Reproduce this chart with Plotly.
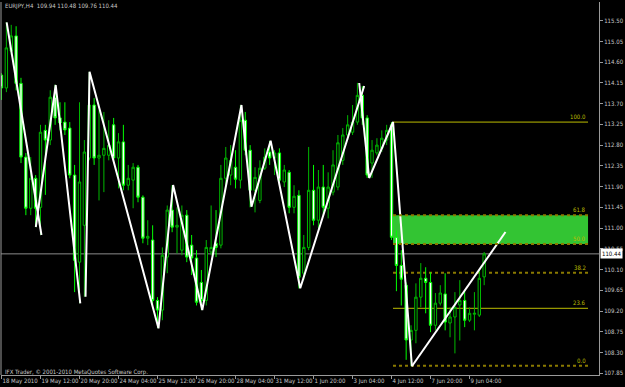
import plotly.graph_objects as go

# ---------------- data ----------------
bars = list(range(100))
opens = [114.32,114.04,114.84,115.17,114.14,112.54,111.43,112.08,111.45,113.12,
         112.91,113.84,113.39,113.30,113.17,112.15,110.26,111.06,112.52,113.67,
         112.52,112.58,112.58,113.24,112.52,112.87,111.93,112.04,112.32,111.67,
         110.78,110.74,109.43,109.22,110.37,111.39,111.02,110.52,111.28,110.63,
         110.35,109.82,109.43,110.48,110.67,110.63,112.08,112.15,112.32,112.04,
         113.34,112.69,111.82,111.60,112.30,112.65,112.52,112.63,112.00,112.21,
         111.45,111.71,110.02,110.58,111.82,111.17,111.89,111.43,111.78,111.89,
         112.47,113.02,113.08,113.30,113.88,113.39,112.41,112.63,112.73,112.91,
         113.24,110.80,110.19,109.76,108.57,108.78,109.50,109.91,109.82,108.89,
         109.37,109.57,108.94,109.07,109.33,109.43,109.00,109.13,109.11,109.94]
highs = [114.36,115.47,115.41,115.38,114.26,112.63,112.54,112.15,113.24,113.24,
         113.99,114.11,113.73,113.73,113.30,112.37,113.73,112.91,114.39,113.82,
         113.56,113.52,113.34,113.39,113.06,113.24,112.37,112.41,112.37,111.71,
         111.17,111.06,109.50,110.58,111.49,111.93,111.45,111.49,111.39,110.85,
         110.52,110.09,110.74,111.49,111.39,112.37,112.76,112.80,112.69,113.67,
         113.52,112.80,112.32,112.47,112.73,112.89,112.69,112.73,112.37,112.26,
         111.93,111.82,110.85,112.76,112.37,112.26,112.37,112.21,112.69,113.02,
         113.17,113.45,113.67,114.15,114.08,113.45,112.91,112.95,113.12,113.24,
         113.30,110.95,110.52,109.82,108.89,109.80,110.24,110.15,110.04,109.59,
         109.76,110.02,109.28,109.61,109.87,109.65,109.28,109.61,110.09,110.48]
lows = [113.78,113.95,114.76,113.99,112.41,111.28,111.28,111.02,110.85,111.72,
        112.80,113.24,113.12,113.02,112.08,109.61,109.37,109.51,112.47,112.37,
        111.60,111.78,112.47,112.43,111.86,111.82,111.82,111.43,111.56,110.67,
        110.63,109.32,108.83,109.00,110.02,110.91,110.45,110.41,110.26,109.98,
        109.32,109.22,109.32,110.41,110.37,110.56,111.93,111.93,111.86,111.86,
        112.58,111.45,111.34,111.54,112.26,112.37,112.15,111.93,111.89,111.32,
        111.32,109.69,109.87,110.52,111.06,111.00,111.28,111.21,111.71,111.82,
        112.37,112.91,113.02,113.24,113.24,112.09,112.09,112.58,112.65,112.80,
        110.74,109.63,109.32,108.14,108.00,108.50,109.28,109.15,108.74,108.78,
        109.32,108.78,108.63,108.28,108.56,108.85,108.96,108.78,109.07,109.76]
closes = [114.04,114.91,115.17,114.14,112.54,111.43,112.08,111.43,113.08,112.91,
          113.84,113.39,113.28,113.13,112.15,110.30,112.00,112.65,113.67,112.52,
          112.58,112.73,112.80,112.52,112.87,111.93,112.08,112.32,111.67,110.78,
          110.82,109.43,109.22,110.41,111.39,111.02,111.06,111.28,110.37,110.35,
          109.39,109.43,110.58,110.58,110.58,112.08,112.52,112.47,112.06,113.34,
          112.69,111.82,112.10,112.30,112.54,112.52,112.63,112.04,112.26,111.45,
          111.69,109.93,110.58,111.82,111.17,111.89,111.45,111.89,112.37,112.85,
          113.02,113.24,113.30,113.88,113.39,112.15,112.69,112.80,112.95,113.12,
          110.80,110.19,109.89,108.57,108.78,109.50,109.91,109.82,108.89,109.37,
          109.59,108.96,109.07,109.28,109.43,109.00,109.15,109.15,109.91,110.44]

# zigzag indicator (bar index, price); None separates segments
zz_x = [1.06, 8.2, None, 7.04, 11.12, 16.16, None,
        17.24, 18.06, 32.2, 35.2, 41.18, 49.22, 51.27, 55.2, 61.27, 74.39, None,
        73.37, 75.41, 80.31, 84.18]
zz_y = [115.465, 110.849, None, 111.023, 114.105, 109.367, None,
        109.510, 114.393, 108.825, 111.934, 109.222, 113.671, 111.464, 112.896, 109.693, 114.083, None,
        114.148, 112.086, 113.302, 108.0]

# trend line
tl_x = [84.18, 103.37]
tl_y = [108.0, 110.914]

# Fibonacci retracement
fib_high = 113.30
fib_low = 108.01
fib_start = 80.3
fib_end = 120.3
fib_levels = [100.0, 61.8, 50.0, 38.2, 23.6, 0.0]

bid = 110.44
symbol_text = "EURJPY,H4  109.94 110.48 109.76 110.44"
copyright_text = "IFX Trader, \u00a9 2001-2010 MetaQuotes Software Corp."

time_tick_bars = [0, 8, 16, 24, 32, 40, 48, 56, 64, 72, 80, 88, 96]
time_tick_text = ["18 May 2010", "19 May 12:00", "20 May 20:00", "24 May 04:00",
                  "25 May 12:00", "26 May 20:00", "28 May 04:00", "31 May 12:00",
                  "1 Jun 20:00", "3 Jun 04:00", "4 Jun 12:00", "7 Jun 20:00",
                  "9 Jun 04:00"]
price_ticks = [107.85, 108.30, 108.75, 109.20, 109.65, 110.10, 110.55, 111.00,
               111.45, 111.90, 112.35, 112.80, 113.25, 113.70, 114.15, 114.60,
               115.05, 115.50]

# ---------------- figure ----------------
FONT = "Liberation Sans Narrow, DejaVu Sans Condensed, Liberation Sans, Arial"
FS = 6
TXT = "#c8c8c8"
FIBC = "#bcbc00"

fig = go.Figure()
fig.add_trace(go.Candlestick(
    x=bars, open=opens, high=highs, low=lows, close=closes,
    increasing=dict(line=dict(color="#00b800", width=1), fillcolor="#000000"),
    decreasing=dict(line=dict(color="#00ff00", width=1), fillcolor="#ffffff"),
    whiskerwidth=0, showlegend=False, hoverinfo="skip"))
fig.add_trace(go.Scatter(x=zz_x, y=zz_y, mode="lines",
                         line=dict(color="#ffffff", width=2),
                         connectgaps=False, showlegend=False, hoverinfo="skip"))
fig.add_trace(go.Scatter(x=tl_x, y=tl_y, mode="lines",
                         line=dict(color="#ffffff", width=2),
                         showlegend=False, hoverinfo="skip"))

shapes = []
lvl_price = {lv: fib_low + (fib_high - fib_low) * lv / 100.0 for lv in fib_levels}
# green zone between 50.0 and 61.8
shapes.append(dict(type="rect", xref="x", yref="y", x0=fib_start, x1=fib_end,
                   y0=lvl_price[50.0], y1=lvl_price[61.8],
                   fillcolor="#33c433", line=dict(width=0), layer="below"))
# bid line
shapes.append(dict(type="line", xref="paper", yref="y", x0=0, x1=1, y0=bid, y1=bid,
                   line=dict(color="#8c8c8c", width=1), layer="below"))
annotations = []
for lv in fib_levels:
    p = lvl_price[lv]
    solid = lv in (100.0, 23.6)
    shapes.append(dict(type="line", xref="x", yref="y", x0=fib_start, x1=fib_end,
                       y0=p, y1=p,
                       line=dict(color=FIBC if solid else "#8a7a00",
                                 width=1 if solid else 2,
                                 dash="solid" if solid else "dot"),
                       layer="above" if lv in (61.8, 50.0) else "below"))
    annotations.append(dict(x=fib_end, y=p, xref="x", yref="y", text="%.1f" % lv,
                            showarrow=False, xanchor="right", yanchor="bottom",
                            yshift=0, font=dict(family=FONT, size=FS, color=FIBC)))

# left frame line
shapes.append(dict(type="line", xref="paper", yref="paper", x0=0, x1=0, y0=0, y1=1,
                   line=dict(color="#9a9a9a", width=1)))

annotations.append(dict(x=0.004, y=0.989, xref="paper", yref="paper", text=symbol_text,
                        showarrow=False, xanchor="left", yanchor="middle",
                        font=dict(family=FONT, size=FS, color=TXT)))
annotations.append(dict(x=0.004, y=0.008, xref="paper", yref="paper", text=copyright_text,
                        showarrow=False, xanchor="left", yanchor="middle",
                        font=dict(family=FONT, size=FS, color=TXT)))
annotations.append(dict(x=1, y=bid, xref="paper", yref="y", text="110.44",
                        showarrow=False, xanchor="left", yanchor="middle", xshift=1,
                        bgcolor="#ffffff", borderpad=1,
                        font=dict(family=FONT, size=FS, color="#000000")))

fig.update_layout(
    width=625, height=387,
    margin=dict(l=1, r=23, t=2, b=12),
    paper_bgcolor="#000000", plot_bgcolor="#000000",
    shapes=shapes, annotations=annotations,
    showlegend=False,
    xaxis=dict(range=[-0.1, 122.55], tickmode="array", tickvals=time_tick_bars,
               ticktext=time_tick_text, ticks="outside", ticklen=3, tickangle=0,
               tickcolor="#9a9a9a", showgrid=False, zeroline=False,
               showline=True, linecolor="#9a9a9a", linewidth=1,
               rangeslider=dict(visible=False), ticklabelposition="outside right",
               tickfont=dict(family=FONT, size=FS, color=TXT), fixedrange=True),
    yaxis=dict(side="right", range=[107.811, 115.906], tickmode="array",
               tickvals=price_ticks, ticktext=["%.2f" % v for v in price_ticks],
               ticks="outside", ticklen=3, tickcolor="#9a9a9a",
               showgrid=False, zeroline=False, showline=True,
               linecolor="#9a9a9a", linewidth=1,
               tickfont=dict(family=FONT, size=FS, color=TXT), fixedrange=True),
)

fig.write_html("out.html")
